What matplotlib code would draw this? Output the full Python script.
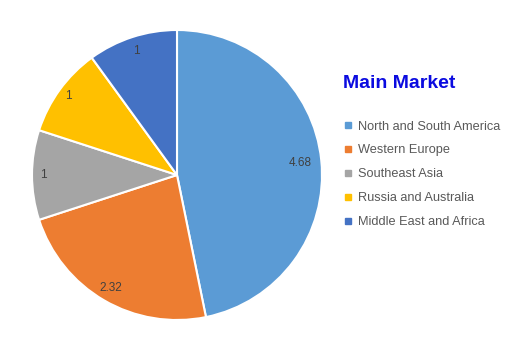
import matplotlib.pyplot as plt
from matplotlib.lines import Line2D
import numpy as np

plt.rcParams["font.family"] = ["Liberation Sans", "DejaVu Sans"]

regions = ["North and South America", "Western Europe", "Southeast Asia",
           "Russia and Australia", "Middle East and Africa"]
values = [4.68, 2.32, 1, 1, 1]
value_labels = ["4.68", "2.32", "1", "1", "1"]
colors = ["#5B9BD5", "#ED7D31", "#A5A5A5", "#FFC000", "#4472C4"]

# radial position of each value label (fraction of radius)
label_r = [0.855, 0.9, 0.925, 0.925, 0.9]

fig = plt.figure(figsize=(5.27, 3.5), dpi=100)
ax = fig.add_axes([(177 - 145) / 527, (350 - 175 - 145) / 350, 290 / 527, 290 / 350])

wedges, _ = ax.pie(values, colors=colors, startangle=90, counterclock=False,
                   wedgeprops=dict(edgecolor="white", linewidth=1.5))
ax.set_xlim(-1, 1)
ax.set_ylim(-1, 1)
ax.set_aspect("equal")

for w, txt, r in zip(wedges, value_labels, label_r):
    mid = np.deg2rad((w.theta1 + w.theta2) / 2)
    ax.text(r * np.cos(mid), r * np.sin(mid), txt, ha="center", va="center",
            fontsize=8.5, color="#404040")

fig.text(343 / 527, 1 - 84 / 350, "Main Market", ha="left", va="center",
         fontsize=14, fontweight="bold", color="#0B0BE0")

handles = [Line2D([], [], marker="s", linestyle="none", markersize=4.5,
                  markerfacecolor=c, markeredgecolor=c) for c in colors]
fig.legend(handles, regions, loc="upper left",
           bbox_to_anchor=(338 / 527, 1 - 115.5 / 350), frameon=False,
           handlelength=0.8, handletextpad=0.4, labelspacing=0.93,
           fontsize=9.2, labelcolor="#595959", borderaxespad=0)

fig.savefig("out.png", dpi=100)
